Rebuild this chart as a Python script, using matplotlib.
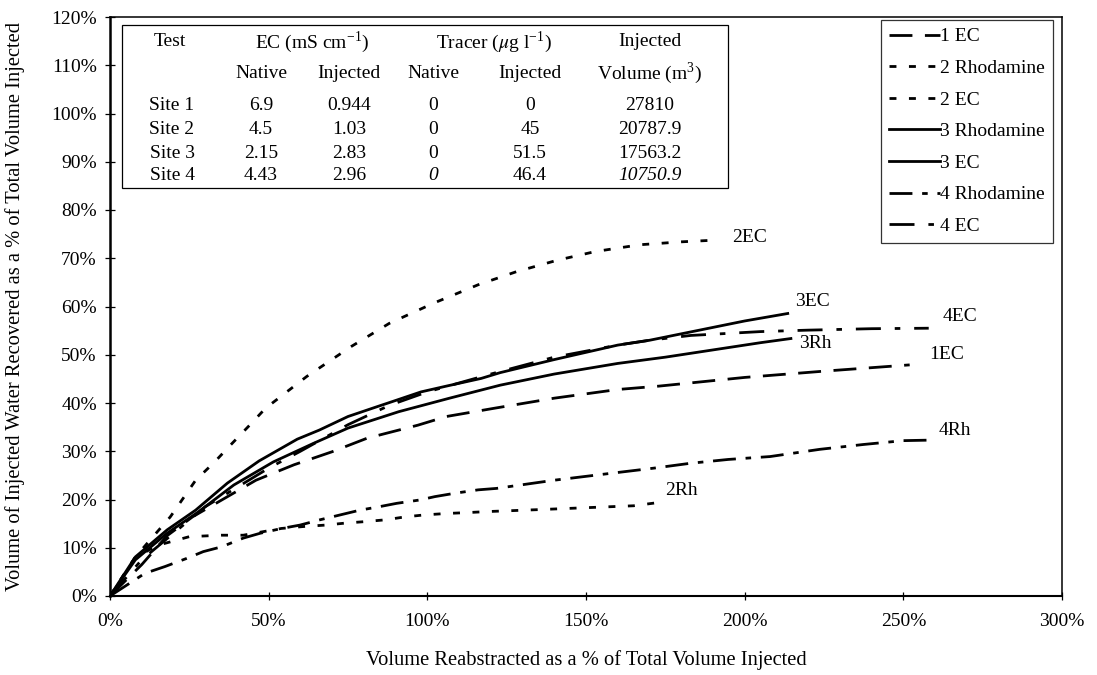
import matplotlib
matplotlib.use("Agg")
import matplotlib.pyplot as plt
from matplotlib.lines import Line2D
from matplotlib.patches import Rectangle
from matplotlib.ticker import FuncFormatter

plt.rcParams['font.family'] = ['Liberation Serif', 'DejaVu Serif']
plt.rcParams['lines.scale_dashes'] = False
plt.rcParams['mathtext.fontset'] = 'stix'

# ---- data (percent of total volume injected) ----
ec1_x = [0, 10, 18, 26, 36, 46, 58, 70, 81, 97, 106, 121, 140, 160, 173, 200, 225, 252]
ec1_y = [0, 6.5, 12.5, 16.4, 20.2, 24.0, 27.2, 29.9, 32.7, 35.4, 37.2, 38.9, 41.0, 42.8, 43.5, 45.3, 46.6, 47.9]

rh2_x = [0, 8, 15, 25, 35, 42, 54, 61, 68, 74, 80, 87, 93, 99, 106, 113, 119, 135, 150, 165, 172]
rh2_y = [0, 8.0, 10.5, 12.3, 12.6, 12.6, 14.0, 14.4, 14.7, 15.1, 15.4, 15.8, 16.4, 16.8, 17.1, 17.3, 17.5, 17.9, 18.3, 18.7, 19.3]

ec2_x = [0, 8, 19, 27, 33, 38, 44, 49, 62, 76, 88, 102, 116, 128, 141, 153, 167, 180, 192]
ec2_y = [0, 8.1, 16.4, 24.0, 27.8, 31.3, 35.4, 38.9, 45.5, 51.7, 56.5, 60.7, 64.5, 67.2, 69.6, 71.4, 72.8, 73.4, 73.8]

rh3_x = [0, 8, 18, 28, 39, 51.5, 64, 75, 91, 107, 123, 140, 160, 175, 190, 205, 215]
rh3_y = [0, 7.5, 13.0, 17.5, 23.0, 27.8, 31.6, 34.8, 38.2, 41.0, 43.7, 46.0, 48.2, 49.5, 51.0, 52.5, 53.4]

ec3_x = [0, 8, 18, 27, 37, 47, 59, 66, 75, 84, 89, 98, 106, 117, 123, 140, 160, 170, 185, 200, 214]
ec3_y = [0, 8.1, 13.7, 17.8, 23.4, 28.0, 32.5, 34.4, 37.2, 39.2, 40.3, 42.3, 43.5, 45.1, 46.3, 49.0, 52.0, 53.0, 55.0, 57.0, 58.6]

rh4_x = [0, 11, 17.3, 24.2, 29.4, 35.2, 42, 47.3, 54.1, 59.9, 66.2, 72.5, 78.8, 84, 90.3, 97.6, 102.4, 108.7, 116, 121.8,
         140, 160, 171.4, 182.8, 194.8, 208, 223.7, 237.4, 250, 258]
rh4_y = [0, 4.7, 6.1, 7.8, 9.2, 10.2, 12.0, 13.0, 14.0, 14.7, 15.8, 16.8, 17.8, 18.4, 19.2, 19.9, 20.6, 21.3, 22.0, 22.3,
         24.0, 25.6, 26.5, 27.5, 28.3, 28.9, 30.4, 31.4, 32.2, 32.3]

ec4_x = [0, 10, 20, 30, 40, 50, 60, 75, 88, 100, 120, 140, 160, 170, 183, 205, 220, 240, 258]
ec4_y = [0, 7.5, 13.0, 18.5, 22.5, 26.5, 30.0, 35.5, 39.5, 42.3, 46.0, 49.5, 52.0, 53.0, 54.0, 54.8, 55.1, 55.4, 55.5]

legend_labels = ["1 EC", "2 Rhodamine", "2 EC", "3 Rhodamine", "3 EC", "4 Rhodamine", "4 EC"]
curve_labels = ["1EC", "2Rh", "2EC", "3Rh", "3EC", "4Rh", "4EC"]

table_header1 = ["Test", "EC (mS cm$^{\\mathregular{-1}}$)", "Tracer ($\\mu$g l$^{\\mathregular{-1}}$)", "Injected"]
table_header2 = ["Native", "Injected", "Native", "Injected", "Volume (m$^{\\mathregular{3}}$)"]
sites = ["Site 1", "Site 2", "Site 3", "Site 4"]
ec_native = ["6.9", "4.5", "2.15", "4.43"]
ec_injected = ["0.944", "1.03", "2.83", "2.96"]
tr_native = ["0", "0", "0", "0"]
tr_injected = ["0", "45", "51.5", "46.4"]
inj_volume = ["27810", "20787.9", "17563.2", "10750.9"]

xticks = [0, 50, 100, 150, 200, 250, 300]
yticks = list(range(0, 121, 10))

# ---- figure ----
W, H = 1097, 675
fig = plt.figure(figsize=(W / 100, H / 100), dpi=100)
def fx(px): return px / W
def fy(py): return 1 - py / H

ax = fig.add_axes([fx(110), fy(596), fx(1062) - fx(110), fy(17) - fy(596)])
ax.set_xlim(0, 300)
ax.set_ylim(0, 120)

FS = 14
LFS = 14.8
lw = 2.0
styles = {
    "1EC": dict(dashes=(16.5, 9.0)),
    "2Rh": dict(dashes=(5.0, 9.0)),
    "2EC": dict(dashes=(5.0, 9.0)),
    "3Rh": dict(linestyle='-'),
    "3EC": dict(linestyle='-'),
    "4Rh": dict(dashes=(16.5, 7.0, 4.0, 7.0)),
    "4EC": dict(dashes=(18.0, 10.0, 4.0, 10.0)),
}
series = [(ec1_x, ec1_y), (rh2_x, rh2_y), (ec2_x, ec2_y), (rh3_x, rh3_y), (ec3_x, ec3_y), (rh4_x, rh4_y), (ec4_x, ec4_y)]
handles = []
for (xs, ys), key, lab in zip(series, curve_labels, legend_labels):
    st = styles[key]
    ax.plot(xs, ys, color='black', lw=lw, solid_capstyle='butt', dash_capstyle='butt', **st)
    handles.append(Line2D([0], [0], color='black', lw=lw, dash_capstyle='butt', **st))

# curve end labels
lab_pos = {"2EC": (196, 74.3), "3EC": (216, 61.0), "4EC": (262.5, 57.9), "3Rh": (217, 52.4),
           "1EC": (258, 50.0), "4Rh": (261, 34.4), "2Rh": (175, 21.8)}
for key in curve_labels:
    x, y = lab_pos[key]
    ax.text(x, y, key, fontsize=FS, ha='left', va='center')

# axes styling
ax.set_xticks(xticks)
ax.set_yticks(yticks)
ax.xaxis.set_major_formatter(FuncFormatter(lambda v, p: f"{int(v)}%"))
ax.yaxis.set_major_formatter(FuncFormatter(lambda v, p: f"{int(v)}%"))
ax.tick_params(axis='y', direction='inout', length=7, width=0.9, labelsize=FS, pad=6)
ax.tick_params(axis='x', direction='inout', length=6, width=0.9, labelsize=FS, pad=9)
for s in ['top', 'right']:
    ax.spines[s].set_linewidth(1.1)
ax.spines['left'].set_linewidth(1.8)
ax.spines['bottom'].set_linewidth(1.5)

ax.set_xlabel("Volume Reabstracted as a % of Total Volume Injected", fontsize=LFS)
ax.set_ylabel("Volume of Injected Water Recovered as a % of Total Volume Injected", fontsize=LFS)
ax.xaxis.set_label_coords(0.5, (596 - 650) / 579)
ax.yaxis.set_label_coords((25 - 110) / 952, 0.5)

# legend
leg = ax.legend(handles, legend_labels, loc='upper right', bbox_to_anchor=(fx(1053), fy(20)),
                bbox_transform=fig.transFigure, fontsize=FS, frameon=True, fancybox=False,
                edgecolor='black', handlelength=2.6, handletextpad=0.05, labelspacing=0.72,
                borderpad=0.4, borderaxespad=0)
leg.get_frame().set_linewidth(0.9)

# table
fig.patches.append(Rectangle((fx(122), fy(188)), fx(728) - fx(122), fy(25) - fy(188),
                             transform=fig.transFigure, fill=False, edgecolor='black', lw=0.9))
rows_y = [105, 130, 153, 175]
fig.text(fx(170), fy(42), table_header1[0], fontsize=FS, ha='center', va='center')
fig.text(fx(312), fy(42), table_header1[1], fontsize=FS, ha='center', va='center')
fig.text(fx(494), fy(42), table_header1[2], fontsize=FS, ha='center', va='center')
fig.text(fx(650), fy(42), table_header1[3], fontsize=FS, ha='center', va='center')
for cx, t in zip([261, 349, 433, 530, 650], table_header2):
    fig.text(fx(cx), fy(73), t, fontsize=FS, ha='center', va='center')
for i, ry in enumerate(rows_y):
    italic = 'italic' if i == 3 else 'normal'
    fig.text(fx(172), fy(ry), sites[i], fontsize=FS, ha='center', va='center')
    fig.text(fx(261), fy(ry), ec_native[i], fontsize=FS, ha='center', va='center')
    fig.text(fx(349), fy(ry), ec_injected[i], fontsize=FS, ha='center', va='center')
    fig.text(fx(433), fy(ry), tr_native[i], fontsize=FS, ha='center', va='center', style=italic)
    fig.text(fx(530), fy(ry), tr_injected[i], fontsize=FS, ha='center', va='center')
    fig.text(fx(650), fy(ry), inj_volume[i], fontsize=FS, ha='center', va='center', style=italic)

fig.savefig("out.png", dpi=100)
